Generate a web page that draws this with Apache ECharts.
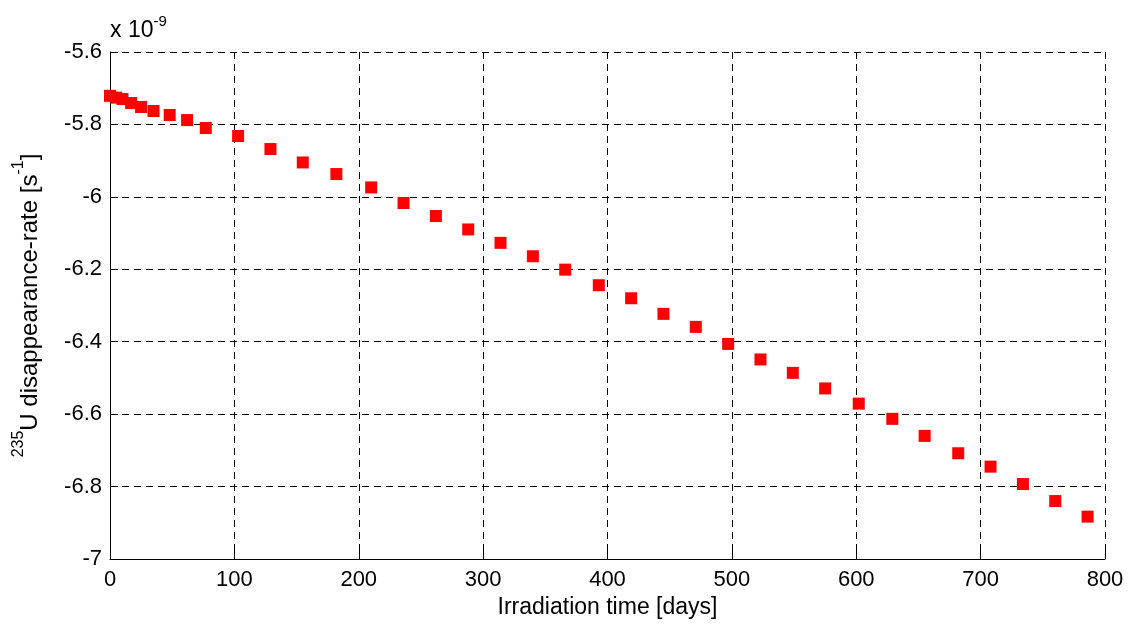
<!DOCTYPE html>
<html>
<head>
<meta charset="utf-8">
<script src="https://cdn.jsdelivr.net/npm/echarts@6/dist/echarts.min.js"></script>
<style>
html,body{margin:0;padding:0;background:#fff;}
#c{width:1132px;height:630px;}
</style>
</head>
<body>
<div id="c"></div>
<script>
// Irradiation time [days]
const days = [0, 5, 10, 17, 25, 35, 48, 62, 77, 103, 129, 155, 182, 210, 236, 262, 288, 314, 340, 366, 393, 419, 445, 471, 497, 523, 549, 575, 602, 629, 655, 682, 708, 734, 760, 786];
// 235U disappearance-rate [s^-1], in units of 1e-9
const rate = [-5.721, -5.726, -5.730, -5.741, -5.752, -5.763, -5.774, -5.788, -5.810, -5.832, -5.868, -5.905, -5.937, -5.974, -6.017, -6.053, -6.090, -6.127, -6.164, -6.201, -6.244, -6.280, -6.323, -6.359, -6.406, -6.449, -6.486, -6.529, -6.571, -6.613, -6.660, -6.708, -6.745, -6.793, -6.840, -6.883];
const xTicks = [0, 100, 200, 300, 400, 500, 600, 700, 800];
const yTicks = [-7, -6.8, -6.6, -6.4, -6.2, -6, -5.8, -5.6];

const FONT = '"Liberation Sans", Arial, Helvetica, sans-serif';
const chart = echarts.init(document.getElementById('c'), null, {renderer: 'canvas'});
const pts = days.map((d, i) => [d, rate[i]]);
const gridLine = {show: true, lineStyle: {color: '#000', type: [7, 5], width: 1}};

chart.setOption({
  animation: false,
  backgroundColor: '#fff',
  grid: {left: 110, right: 27, top: 52, bottom: 71, containLabel: false},
  xAxis: {
    type: 'value', min: xTicks[0], max: xTicks[xTicks.length - 1], interval: 100,
    axisLine: {show: true, onZero: false, lineStyle: {color: '#000', width: 1}},
    axisTick: {show: true, inside: true, length: 8, lineStyle: {color: '#000'}},
    axisLabel: {color: '#000', fontFamily: FONT, fontSize: 22, margin: 10},
    splitLine: gridLine,
    name: 'Irradiation time [days]', nameLocation: 'middle', nameGap: 33,
    nameTextStyle: {color: '#000', fontFamily: FONT, fontSize: 23}
  },
  yAxis: {
    type: 'value', min: yTicks[0], max: yTicks[yTicks.length - 1], interval: 0.2,
    axisLine: {show: true, onZero: false, lineStyle: {color: '#000', width: 1}},
    axisTick: {show: true, inside: true, length: 8, lineStyle: {color: '#000'}},
    axisLabel: {color: '#000', fontFamily: FONT, fontSize: 22, margin: 8,
      formatter: v => String(Math.round(v * 10) / 10)},
    splitLine: gridLine,
    name: '{sup|235}{n|U disappearance-rate [s}{sup|-1}{n|]}',
    nameLocation: 'middle', nameRotate: 90, nameGap: 68,
    nameTextStyle: {
      color: '#000', fontFamily: FONT, fontSize: 24,
      rich: {
        n: {fontFamily: FONT, fontSize: 24, color: '#000', lineHeight: 31, verticalAlign: 'bottom'},
        sup: {fontFamily: FONT, fontSize: 16, color: '#000', lineHeight: 31, verticalAlign: 'top'}
      }
    }
  },
  graphic: [{
    type: 'text', left: 110, top: 14,
    style: {
      text: '{a|x 10}{b|-9}',
      rich: {
        a: {fontFamily: FONT, fontSize: 23, fill: '#000', lineHeight: 28, verticalAlign: 'bottom'},
        b: {fontFamily: FONT, fontSize: 15, fill: '#000', lineHeight: 28, verticalAlign: 'top'}
      }
    }
  }],
  series: [{
    type: 'scatter', data: pts, symbol: 'rect', symbolSize: 12,
    itemStyle: {color: '#ff0000', opacity: 1}
  }]
});
</script>
</body>
</html>
